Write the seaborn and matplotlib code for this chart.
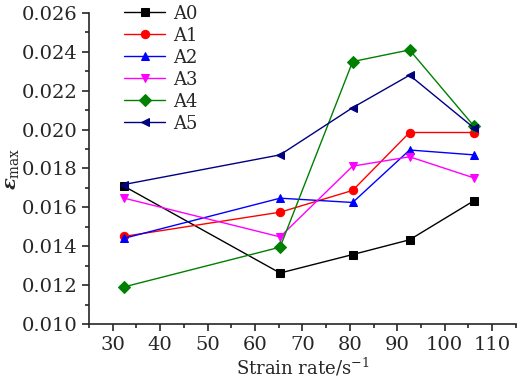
import numpy as np
import pandas as pd
import matplotlib
matplotlib.use("Agg")
import matplotlib.pyplot as plt
import seaborn as sns
from matplotlib.ticker import MultipleLocator

# strain rates (s^-1) and max strain per sample
rates = [32.3, 65.3, 80.6, 92.6, 106.1]
a0 = [0.01710, 0.01262, 0.01357, 0.01433, 0.01633]
a1 = [0.01450, 0.01575, 0.01687, 0.01985, 0.01985]
a2 = [0.01440, 0.01647, 0.01625, 0.01895, 0.01870]
a3 = [0.01648, 0.01448, 0.01812, 0.01860, 0.01752]
a4 = [0.01190, 0.01395, 0.02350, 0.02410, 0.02020]
a5 = [0.01717, 0.01870, 0.02113, 0.02280, 0.02010]

labels = ["A0", "A1", "A2", "A3", "A4", "A5"]
colors = ["black", "red", "blue", "magenta", "green", "navy"]
markers = ["s", "o", "^", "v", "D", "<"]

sns.set_style("ticks")
plt.rcParams["font.family"] = ["DejaVu Serif"]
plt.rcParams["mathtext.fontset"] = "custom"
plt.rcParams["mathtext.rm"] = "DejaVu Serif"
plt.rcParams["mathtext.it"] = "DejaVu Serif:italic:bold"

frames = []
for lab, vals in zip(labels, [a0, a1, a2, a3, a4, a5]):
    frames.append(pd.DataFrame({"rate": rates, "eps": vals, "sample": lab}))
df = pd.concat(frames, ignore_index=True)

fig = plt.figure(figsize=(5.2, 3.82), dpi=100)
ax = fig.add_axes([0.171, 0.152, 0.821, 0.814])

for lab, c, m in zip(labels, colors, markers):
    sns.lineplot(data=df[df["sample"] == lab], x="rate", y="eps", ax=ax,
                 color=c, marker=m, markersize=6, markeredgecolor=c,
                 linewidth=1, label=lab)

ax.set_xlim(25, 115)
ax.set_ylim(0.010, 0.026)
ax.xaxis.set_major_locator(MultipleLocator(10))
ax.xaxis.set_minor_locator(MultipleLocator(5))
ax.yaxis.set_major_locator(MultipleLocator(0.002))
ax.yaxis.set_minor_locator(MultipleLocator(0.001))
ax.yaxis.set_major_formatter(matplotlib.ticker.FormatStrFormatter("%.3f"))
ax.tick_params(which="major", direction="out", length=5, width=1.2, labelsize=14)
ax.tick_params(which="minor", direction="out", length=3, width=1.2)
for s in ["left", "bottom"]:
    ax.spines[s].set_linewidth(1.2)
sns.despine(ax=ax)

ax.set_xlabel("Strain rate/s$^{-1}$", fontsize=13, labelpad=2)
ax.set_ylabel(r"$\varepsilon_{\rm max}$", fontsize=14)
ax.yaxis.set_label_coords(-0.158, 0.5)

ax.legend(loc="upper left", bbox_to_anchor=(0.065, 1.05), frameon=False,
          fontsize=13, handlelength=2.3, labelspacing=0.22, handletextpad=0.4,
          borderaxespad=0)

fig.savefig("out.png", dpi=100)
